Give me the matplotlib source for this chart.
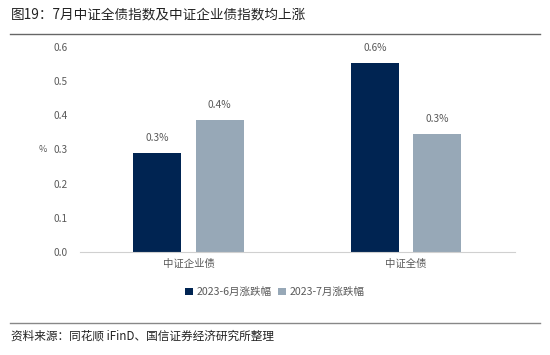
import matplotlib
matplotlib.use('AGG')
import numpy as np
import matplotlib.pyplot as plt
from matplotlib.lines import Line2D

plt.rcParams['font.family'] = ['Noto Sans CJK SC', 'DejaVu Sans']

categories = ['中证企业债', '中证全债']
june = [0.29, 0.553]
july = [0.386, 0.345]
june_labels = ['0.3%', '0.6%']
july_labels = ['0.4%', '0.3%']
series_names = ['2023-6月涨跌幅', '2023-7月涨跌幅']
yticks = [0.0, 0.1, 0.2, 0.3, 0.4, 0.5, 0.6]

dark = '#002452'
light = '#97a8b7'
grey = '#595959'

fig = plt.figure(figsize=(5.5, 3.55), dpi=100)
ax = fig.add_axes([0.145, 0.29, 0.791, 0.578])

x = np.arange(len(categories))
w = 0.22
off = 0.143
b1 = ax.bar(x - off, june, w, color=dark, label=series_names[0])
b2 = ax.bar(x + off, july, w, color=light, label=series_names[1])
for bars, labs in ((b1, june_labels), (b2, july_labels)):
    for b, t in zip(bars, labs):
        ax.text(b.get_x() + b.get_width() / 2, b.get_height() + 0.028, t,
                ha='center', va='bottom', fontsize=7.3, color=grey)

ax.set_xlim(-0.5, 1.5)
ax.set_ylim(0, 0.6)
ax.set_yticks(yticks)
ax.set_yticklabels([f'{v:.1f}' for v in yticks], fontsize=7.3, color=grey)
ax.set_xticks(x)
ax.set_xticklabels(categories, fontsize=7.5, color=grey)
ax.tick_params(length=0, pad=9)
ax.tick_params(axis='x', pad=5)
for s in ['top', 'right', 'left']:
    ax.spines[s].set_visible(False)
ax.spines['bottom'].set_color('#d0d0d0')
ax.set_ylabel('%', rotation=0, fontsize=6.5, color=grey, labelpad=7, va='center')

fig.legend(handles=[b1, b2], loc='center', bbox_to_anchor=(0.5, 0.177), ncol=2,
           frameon=False, fontsize=7.6, handlelength=0.7, handleheight=0.7,
           handletextpad=0.4, columnspacing=0.6, labelcolor=grey)

fig.text(0.02, 0.96, '图19：7月中证全债指数及中证企业债指数均上涨', fontsize=9.8,
         color='#222222', va='center')
fig.add_artist(Line2D([0.018, 0.982], [0.905, 0.905], color='#666666', lw=1))
fig.add_artist(Line2D([0.018, 0.982], [0.09, 0.09], color='#888888', lw=1))
fig.text(0.02, 0.053, '资料来源：同花顺 iFinD、国信证券经济研究所整理', fontsize=8.4,
         color='#222222', va='center')

fig.savefig('out.png')
